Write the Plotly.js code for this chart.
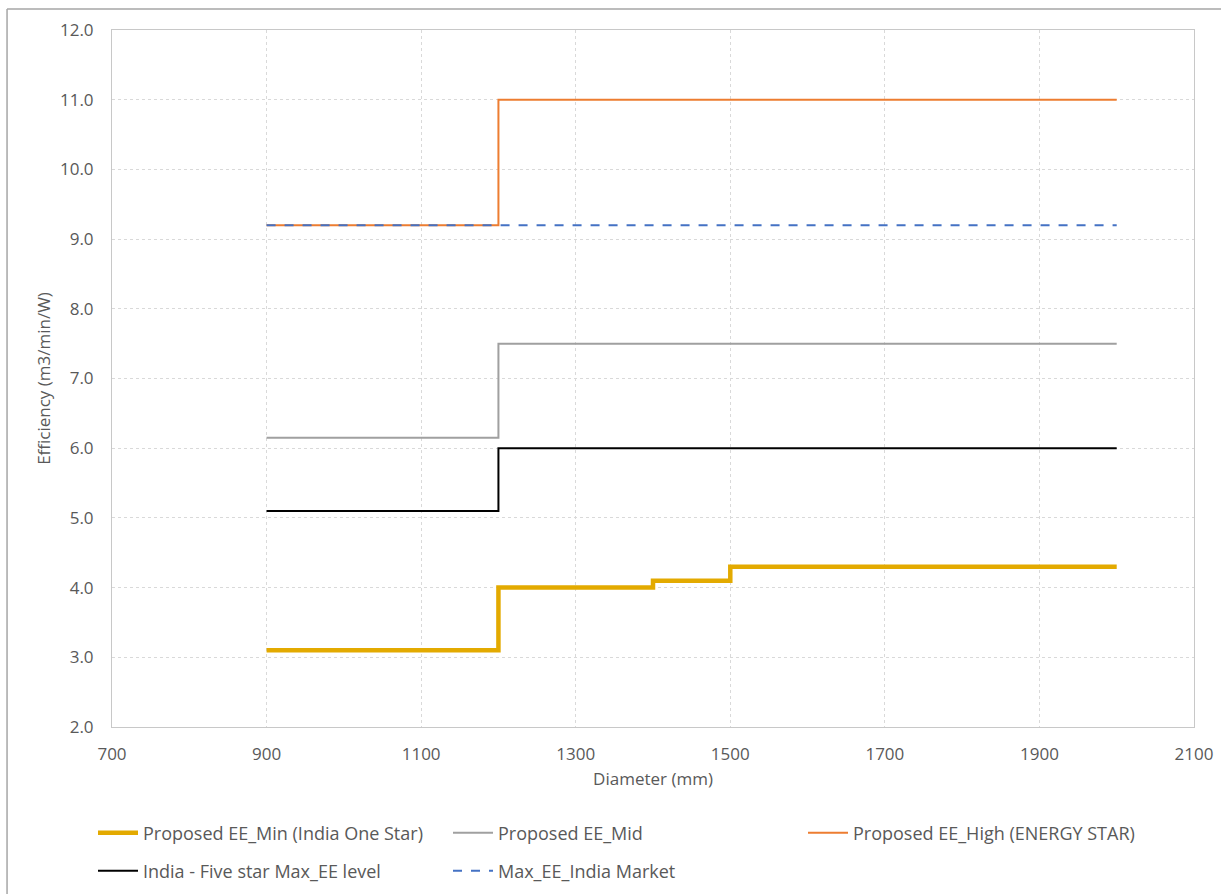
<!DOCTYPE html>
<html>
<head>
<meta charset="utf-8">
<script src="https://cdn.plot.ly/plotly-3.0.1.min.js"></script>
<style>body{margin:0;padding:0;background:#fff;} #chart{width:1221px;height:894px;}</style>
</head>
<body>
<div id="chart"></div>
<script>
// Diameter breakpoints (mm)
const diameterMin = [900, 1200, 1400, 1500, 2000];
const eeMin = [3.1, 4.0, 4.1, 4.3, 4.3];

const diameterTwoStep = [900, 1200, 2000];
const eeMid = [6.15, 7.5, 7.5];
const eeHigh = [9.2, 11.0, 11.0];
const fiveStar = [5.1, 6.0, 6.0];

const diameterMarket = [900, 2000];
const maxMarket = [9.2, 9.2];

const seriesNames = [
  "Proposed EE_Min (India One Star)",
  "Proposed EE_Mid",
  "Proposed EE_High (ENERGY STAR)",
  "India - Five star Max_EE level",
  "Max_EE_India Market"
];

const xTicks = [700, 900, 1100, 1300, 1500, 1700, 1900, 2100];

const font = "Open Sans, Noto Sans, sans-serif";

const traces = [
  {x: diameterMin, y: eeMin, name: seriesNames[0], mode: "lines", legend: "legend",
   line: {shape: "hv", color: "#E3AA00", width: 4.5}},
  {x: diameterTwoStep, y: eeMid, name: seriesNames[1], mode: "lines", legend: "legend",
   line: {shape: "hv", color: "#A0A0A0", width: 2}},
  {x: diameterTwoStep, y: eeHigh, name: seriesNames[2], mode: "lines", legend: "legend",
   line: {shape: "hv", color: "#ED7D31", width: 2}},
  {x: diameterTwoStep, y: fiveStar, name: seriesNames[3], mode: "lines", legend: "legend2",
   line: {shape: "hv", color: "#000000", width: 2}},
  {x: diameterMarket, y: maxMarket, name: seriesNames[4], mode: "lines", legend: "legend2",
   line: {color: "#4472C4", width: 2, dash: "dash"}}
];

const legendCommon = {
  orientation: "h", x: 93 / 1221, xanchor: "left", xref: "container",
  yanchor: "middle", yref: "container",
  entrywidth: 300, entrywidthmode: "pixels", traceorder: "normal",
  font: {size: 18, color: "#595959", family: font}, itemwidth: 40,
  bgcolor: "rgba(0,0,0,0)"
};

const layout = {
  width: 1221, height: 894,
  margin: {l: 112, r: 27, t: 30, b: 167},
  paper_bgcolor: "#ffffff", plot_bgcolor: "#ffffff",
  font: {family: font, color: "#595959", size: 17},
  showlegend: true,
  xaxis: {
    range: [700, 2100], tickvals: xTicks, ticktext: xTicks.map(String),
    showgrid: true, gridcolor: "#d9d9d9", griddash: "dot", gridwidth: 1,
    showline: true, linecolor: "#c8c8c8", linewidth: 1, mirror: true,
    zeroline: false, ticks: "", ticklabelstandoff: 12,
    tickfont: {size: 17, color: "#595959"},
    title: {text: "Diameter (mm)", font: {size: 17, color: "#595959"}, standoff: 8}
  },
  yaxis: {
    range: [2, 12], dtick: 1, tick0: 2, tickformat: ".1f",
    showgrid: true, gridcolor: "#d9d9d9", griddash: "dot", gridwidth: 1,
    showline: true, linecolor: "#c8c8c8", linewidth: 1, mirror: true,
    zeroline: false, ticks: "", ticklabelstandoff: 14,
    tickfont: {size: 17, color: "#595959"},
    title: {text: "Efficiency (m3/min/W)", font: {size: 17, color: "#595959"}, standoff: 5}
  },
  legend: Object.assign({}, legendCommon, {y: 1 - 833 / 894}),
  legend2: Object.assign({}, legendCommon, {y: 1 - 871 / 894}),
  shapes: [
    {type: "line", xref: "paper", yref: "paper", x0: -0.097, x1: 1.03, y0: 1.03, y1: 1.03,
     line: {color: "#a6a6a6", width: 1.5}},
    {type: "line", xref: "paper", yref: "paper", x0: -0.097, x1: -0.097, y0: 1.03, y1: -0.3,
     line: {color: "#a6a6a6", width: 1.5}}
  ]
};

Plotly.newPlot("chart", traces, layout, {displayModeBar: false, staticPlot: true});
</script>
</body>
</html>
